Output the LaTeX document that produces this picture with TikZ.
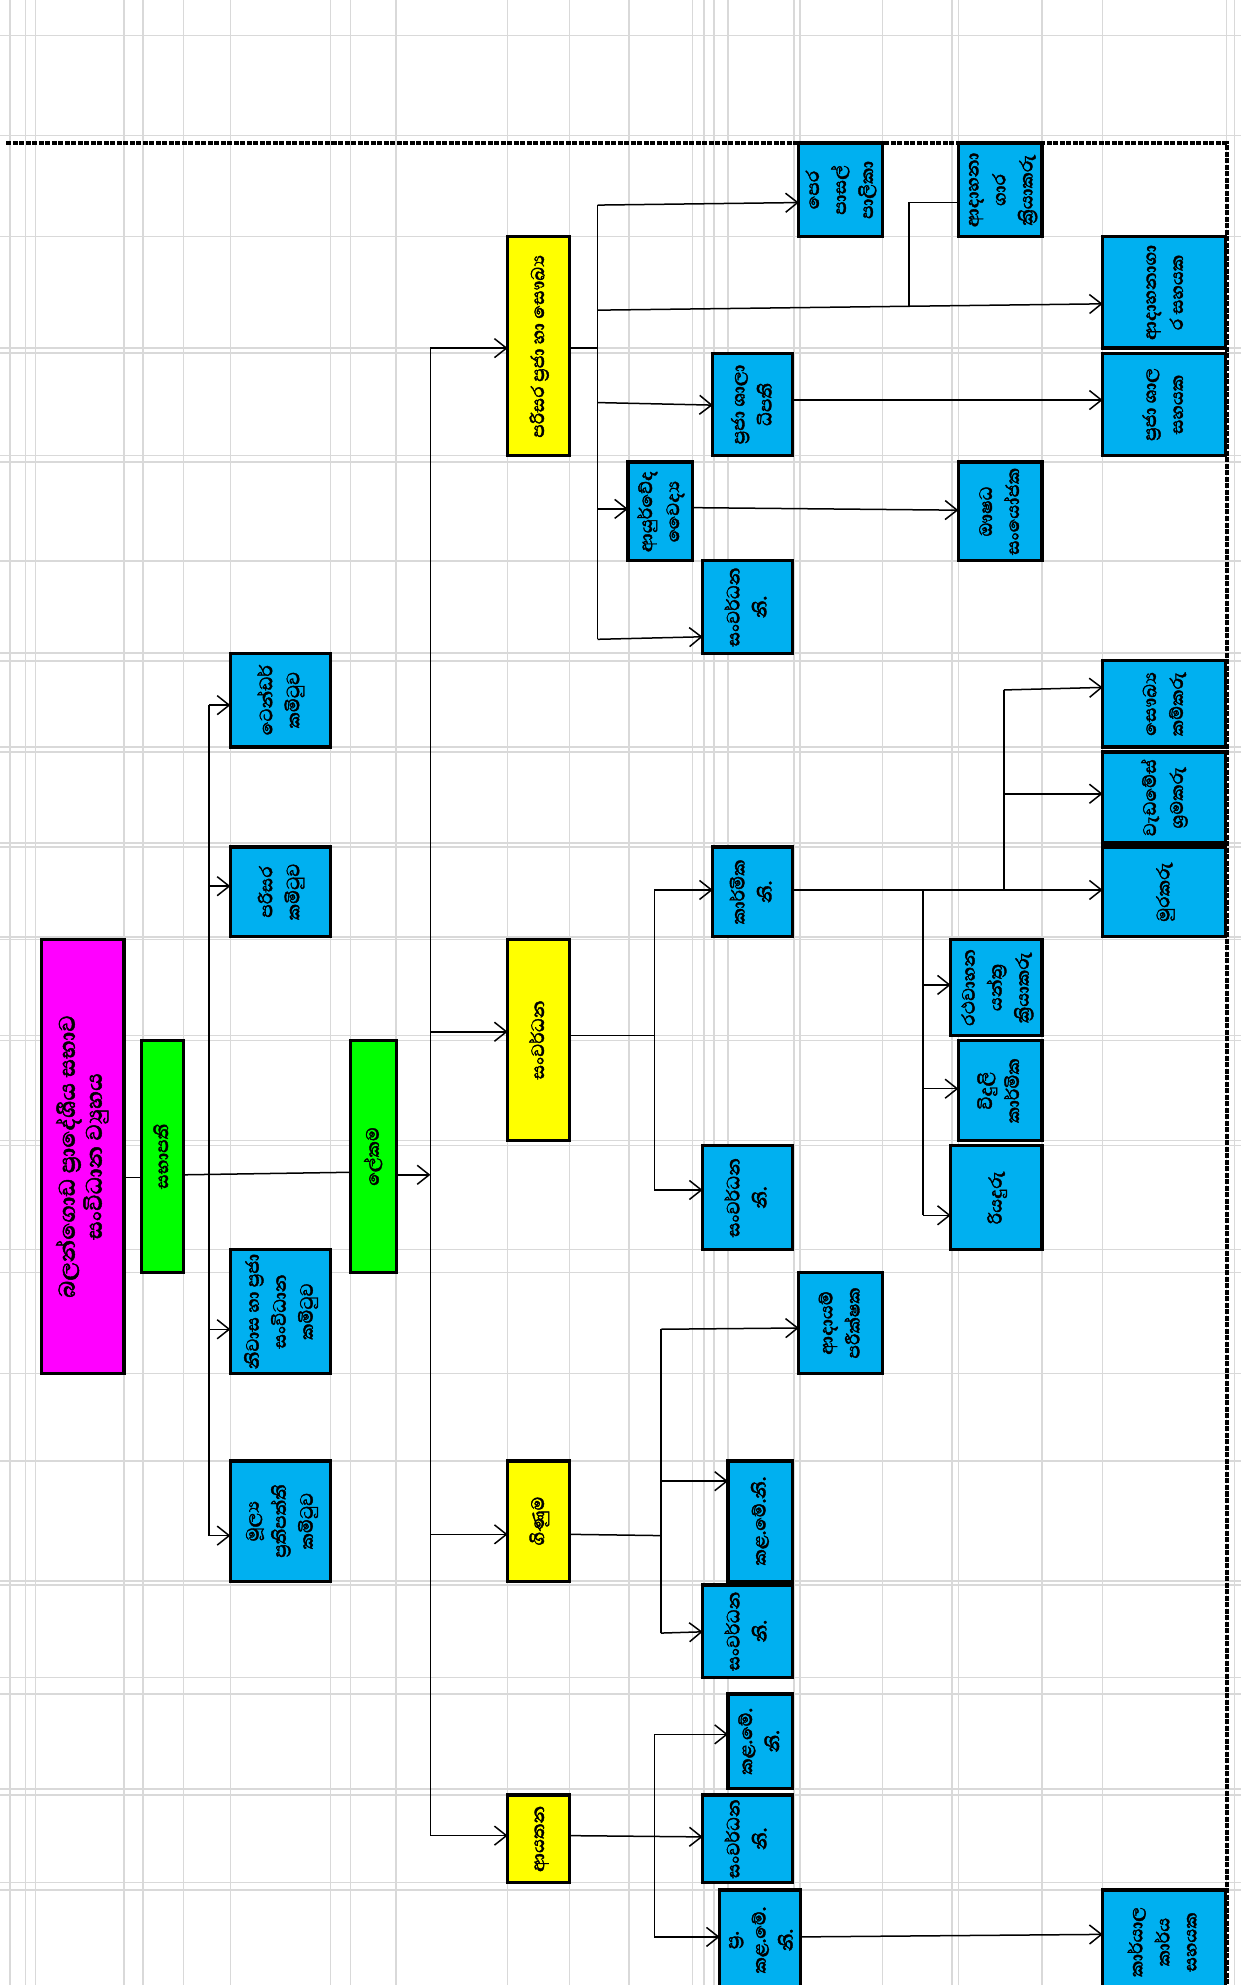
\documentclass[tikz,border=0pt]{standalone}
\usepackage{fontspec}
\usepackage{graphicx}
\newfontfamily\sinhf[Script=Sinhala, FakeBold=1.6]{Abhaya Libre}
\usetikzlibrary{arrows.meta}
\definecolor{cblue}{RGB}{0,176,240}
\definecolor{cyel}{RGB}{255,255,0}
\definecolor{cgreen}{RGB}{0,255,0}
\definecolor{cmag}{RGB}{255,0,255}
\definecolor{cgrid}{RGB}{217,217,217}
\newcommand\bx[7]{\node[boxst, fill=#6, minimum width={(#4-#2)*1.2653pt}, minimum height={(#5-#3)*1.2653pt}] (#1) at ({(#2+#4)/2},{(#3+#5)/2}) {\rotatebox{90}{\begin{tabular}{@{}c@{}}#7\end{tabular}}};}
\begin{document}
\begin{tikzpicture}[x=1.2653pt,y=-1.2653pt,
  boxst/.style={draw=black, line width=3.3pt, inner sep=0pt, outer sep=0pt, font=\sinhf\bfseries\fontsize{23}{27}\selectfont},
  ln/.style={line width=1.5pt},
  arr/.style={line width=1.5pt, -{Straight Barb[length=12pt,width=19pt,line width=1.5pt]}},
  gridln/.style={draw=cgrid, line width=1.5pt},
  pagebrk/.style={draw=black, line width=3.8pt, dash pattern=on 5pt off 1.5pt}]
\useasboundingbox (0,0) rectangle (980,1568);
\fill[white] (0,0) rectangle (980,1568);
% grid
\foreach \gx in {8,20,28,98,113,145,182,261,277,313,401,450,497,547,556,564,575,627,632,697,752,757,823,871,969,975}
  \draw[gridln] (\gx,0) -- (\gx,1568);
\foreach \gy in {28,107,187,275,279,360,365,443,516,522,590,594,666,669,740,742,818,822,901,905,987,1005,1085,1154,1249,1252,1325,1338,1413,1418,1487,1493}
  \draw[gridln] (0,\gy) -- (980,\gy);
% page break lines
\draw[pagebrk] (5,113) -- (969,113) -- (969,1568);
% boxes
\bx{mag}{33}{742}{98}{1085}{cmag}{\fontsize{29}{31}\selectfont බලන්ගොඩ ප්‍රාදේශීය සභාව\\\fontsize{29}{31}\selectfont සංවිධාන ව්‍යුහය}
\bx{g1}{112}{822}{145}{1005}{cgreen}{සභාපති}
\bx{g2}{277}{822}{313}{1005}{cgreen}{ලේකම}
\bx{tender}{182}{516}{261}{590}{cblue}{ටෙන්ඩර්\\කමිටුව}
\bx{paris}{182}{669}{261}{740}{cblue}{පරිසර\\කමිටුව}
\bx{niwas}{182}{987}{261}{1085}{cblue}{නිවාස හා ප්‍රජා\\සංවිධාන\\කමිටුව}
\bx{mulya}{182}{1154}{261}{1249}{cblue}{මූල්‍ය\\ප්‍රතිපත්ති\\කමිටුව}
\bx{y1}{401}{187}{450}{360}{cyel}{පරිසර ප්‍රජා හා සෞඛ්‍ය}
\bx{y2}{401}{742}{450}{901}{cyel}{සංවර්ධන}
\bx{y3}{401}{1154}{450}{1249}{cyel}{ගිණුම}
\bx{y4}{401}{1418}{450}{1487}{cyel}{ආයතන}
\bx{pera}{631}{113}{697}{187}{cblue}{පෙර\\පාසල්\\පාලිකා}
\bx{adkri}{757}{113}{823}{187}{cblue}{ආදාහනා\\ගාර\\ක්‍රියාකරු}
\bx{adsah}{871}{187}{968}{275}{cblue}{ආදාහනාගා\\ර සහයක}
\bx{pshd}{563}{279}{626}{360}{cblue}{ප්‍රජා ශාලා\\ධිපති}
\bx{pshs}{871}{279}{968}{360}{cblue}{ප්‍රජා ශාල\\සහයක}
\bx{ayur}{496}{365}{547}{443}{cblue}{ආයුර්වේද\\වෛද්‍ය}
\bx{aush}{757}{365}{823}{443}{cblue}{ඖෂධ\\සංයෝජක}
\bx{sw1}{555}{443}{626}{516}{cblue}{සංවර්ධන\\නි.}
\bx{sauk}{871}{522}{968}{590}{cblue}{සෞඛ්‍ය\\කම්කරු}
\bx{wed}{871}{594}{968}{666}{cblue}{වැඩමේස්\\ශ්‍රමකරු}
\bx{karm}{563}{669}{626}{740}{cblue}{කාර්මික\\නි.}
\bx{mura}{871}{669}{968}{740}{cblue}{මුරකරු}
\bx{rath}{751}{742}{823}{818}{cblue}{රථවාහන\\යන්ත්‍ර\\ක්‍රියාකරු}
\bx{vid}{757}{822}{823}{901}{cblue}{විදුලි\\කාර්මික}
\bx{riya}{751}{905}{823}{987}{cblue}{රියදුරු}
\bx{sw2}{555}{905}{626}{987}{cblue}{සංවර්ධන\\නි.}
\bx{aday}{631}{1005}{697}{1085}{cblue}{ආදායම්\\පරීක්ෂක}
\bx{kal1}{575}{1154}{626}{1249}{cblue}{කළ.මේ.නි.}
\bx{sw3}{555}{1252}{626}{1325}{cblue}{සංවර්ධන\\නි.}
\bx{kal2}{575}{1338}{626}{1413}{cblue}{කළ.මේ.\\නි.}
\bx{sw4}{555}{1418}{626}{1487}{cblue}{සංවර්ධන\\නි.}
\bx{prak}{575}{1493}{626}{1572}{cblue}{ප්‍ර.\\කළ.මේ.\\නි.}
\bx{kary}{871}{1493}{968}{1575}{cblue}{කාර්යාල\\කාර්ය\\සහයක}
% junction coordinates
\coordinate (v1t) at (165,557); \coordinate (v1b) at (165,1213);
\coordinate (v2t) at (340,275); \coordinate (v2b) at (340,1450);
\coordinate (v3t) at (472,162); \coordinate (v3b) at (472,505);
\coordinate (v4t) at (718,160); \coordinate (v4b) at (718,242);
\coordinate (v5t) at (517,703); \coordinate (v5b) at (517,940);
\coordinate (v6t) at (793,545); \coordinate (v6b) at (793,703);
\coordinate (v7t) at (729,703); \coordinate (v7b) at (729,960);
\coordinate (v8t) at (522,1050); \coordinate (v8b) at (522,1290);
\coordinate (v9t) at (517,1370); \coordinate (v9b) at (517,1530);
% chairman
\draw[ln] (mag.east |- 0,930) -- (g1.west |- 0,930);
\draw[ln] (g1.east |- 0,928) -- (g2.west |- 0,926);
\draw[ln] (v1t) -- (v1b);
\draw[arr] (v1t) -- (tender.west |- v1t);
\draw[arr] (v1t |- 0,700) -- (paris.west |- 0,700);
\draw[arr] (v1t |- 0,1050) -- (niwas.west |- 0,1050);
\draw[arr] (v1b) -- (mulya.west |- v1b);
% secretary
\draw[arr] (g2.east |- 0,928) -- (v2t |- 0,928);
\draw[ln] (v2t) -- (v2b);
\draw[arr] (v2t) -- (y1.west |- v2t);
\draw[arr] (v2t |- 0,815) -- (y2.west |- 0,815);
\draw[arr] (v2t |- 0,1212) -- (y3.west |- 0,1212);
\draw[arr] (v2b) -- (y4.west |- v2b);
% environment
\draw[ln] (y1.east |- 0,275) -- (v3t |- 0,275);
\draw[ln] (v3t) -- (v3b);
\draw[arr] (v3t) -- (pera.west |- 0,160);
\draw[arr] (v3t |- 0,245) -- (adsah.west |- 0,240);
\draw[ln] (v4b) -- (v4t) -- (adkri.west |- v4t);
\draw[arr] (v3t |- 0,318) -- (pshd.west |- 0,320);
\draw[arr] (v3t |- 0,402) -- (ayur.west |- 0,402);
\draw[arr] (v3b) -- (sw1.west |- 0,503);
\draw[arr] (pshd.east |- 0,316) -- (pshs.west |- 0,316);
\draw[arr] (ayur.east |- 0,401) -- (aush.west |- 0,403);
% development
\draw[ln] (y2.east |- 0,818) -- (v5t |- 0,818);
\draw[ln] (v5t) -- (v5b);
\draw[arr] (v5t) -- (karm.west |- v5t);
\draw[arr] (v5b) -- (sw2.west |- v5b);
\draw[arr] (karm.east |- 0,703) -- (mura.west |- 0,703);
\draw[ln] (v6t) -- (v6b);
\draw[arr] (v6t) -- (sauk.west |- 0,543);
\draw[arr] (v6t |- 0,627) -- (wed.west |- 0,627);
\draw[ln] (v7t) -- (v7b);
\draw[arr] (v7t |- 0,778) -- (rath.west |- 0,778);
\draw[arr] (v7t |- 0,860) -- (vid.west |- 0,860);
\draw[arr] (v7b) -- (riya.west |- v7b);
% accounts
\draw[ln] (y3.east |- 0,1212) -- (v8t |- 0,1213);
\draw[ln] (v8t) -- (v8b);
\draw[arr] (v8t) -- (aday.west |- 0,1049);
\draw[arr] (v8t |- 0,1170) -- (kal1.west |- 0,1170);
\draw[arr] (v8b) -- (sw3.west |- 0,1289);
% establishment
\draw[ln] (v9t) -- (v9b);
\draw[arr] (y4.east |- 0,1450) -- (sw4.west |- 0,1451);
\draw[arr] (v9t) -- (kal2.west |- v9t);
\draw[arr] (v9b) -- (prak.west |- v9b);
\draw[arr] (prak.east |- 0,1530) -- (kary.west |- 0,1528);
\end{tikzpicture}
\end{document}
